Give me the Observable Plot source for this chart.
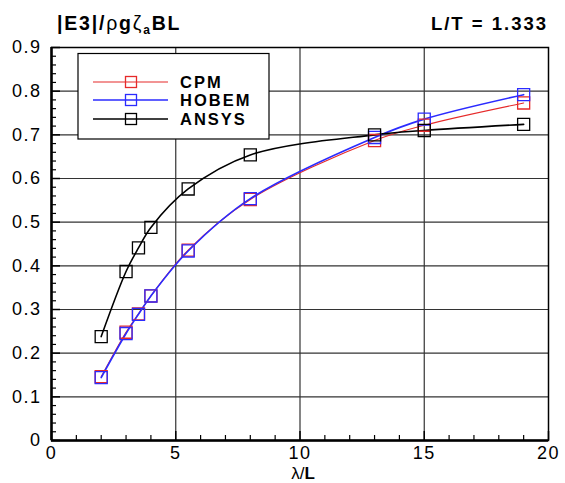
<!DOCTYPE html>
<html><head><meta charset="utf-8">
<script src="https://cdn.jsdelivr.net/npm/d3@7"></script>
<script src="https://cdn.jsdelivr.net/npm/@observablehq/plot@0.6"></script>
<style>
body{margin:0;background:#fff;}
#wrap{position:relative;width:565px;height:483px;font-family:"Liberation Sans",Arial,sans-serif;}
#wrap svg{display:block;}
#over{position:absolute;left:0;top:0;pointer-events:none;}
</style></head><body><div id="wrap"></div>
<script>
const xValues = [2, 3, 3.5, 4, 5.5, 8, 13, 15, 19];
const cpm   = [0.146, 0.248, 0.290, 0.331, 0.436, 0.552, 0.687, 0.722, 0.773];
const hobem = [0.144, 0.245, 0.289, 0.331, 0.434, 0.554, 0.694, 0.736, 0.792];
const ansys = [0.238, 0.387, 0.441, 0.488, 0.576, 0.654, 0.700, 0.710, 0.724];
const seriesNames = ["CPM", "HOBEM", "ANSYS"];
const seriesColors = ["#e62a2a", "#2b2bff", "#000000"];
const xTicks = [0, 5, 10, 15, 20];
const xTickLabels = ["0", "5", "10", "15", "20"];
const xMinorTicks = [1,2,3,4,6,7,8,9,11,12,13,14,16,17,18,19];
const yTicks = [0, 0.1, 0.2, 0.3, 0.4, 0.5, 0.6, 0.7, 0.8, 0.9];
const yTickLabels = ["0", "0.1", "0.2", "0.3", "0.4", "0.5", "0.6", "0.7", "0.8", "0.9"];
const yMinorTicks = [0.02,0.04,0.06,0.08,0.12,0.14,0.16,0.18,0.22,0.24,0.26,0.28,0.32,0.34,0.36,0.38,
  0.42,0.44,0.46,0.48,0.52,0.54,0.56,0.58,0.62,0.64,0.66,0.68,0.72,0.74,0.76,0.78,0.82,0.84,0.86,0.88];
const xGrid = [5, 10, 15];
const yGrid = [0.1, 0.2, 0.3, 0.4, 0.5, 0.6, 0.7, 0.8];
const ratioText = "L/T = 1.333";

const seriesValues = [cpm, hobem, ansys];
const rows = seriesNames.flatMap((s, k) => xValues.map((x, i) => ({series: s, x, y: seriesValues[k][i]})));

const W = 565, H = 483;
const chart = Plot.plot({
  width: W, height: H,
  marginLeft: 51, marginRight: 17, marginTop: 47, marginBottom: 43,
  style: {fontFamily: "Liberation Sans, Arial, sans-serif", fontSize: "18px", background: "#fff", overflow: "visible"},
  x: {domain: [0, 20]},
  y: {domain: [0, 0.9]},
  color: {domain: seriesNames, range: seriesColors},
  marks: [
    Plot.gridX(xGrid, {stroke: "#333", strokeOpacity: 1, strokeWidth: 1.2}),
    Plot.gridY(yGrid, {stroke: "#333", strokeOpacity: 1, strokeWidth: 1.2}),
    Plot.frame({stroke: "#000", strokeWidth: 1.5}),
    Plot.ruleX([0], {stroke: "#000", strokeWidth: 2.5}),
    Plot.ruleY([0], {stroke: "#000", strokeWidth: 2.5}),
    Plot.axisY({ticks: yTicks, tickSize: -9, tickFormat: () => "", label: null, strokeWidth: 1.5}),
    Plot.axisY({ticks: yMinorTicks, tickSize: -5, tickFormat: () => "", label: null, strokeWidth: 1.2}),
    Plot.axisX({ticks: xTicks, tickSize: -9, tickFormat: () => "", label: null, strokeWidth: 1.5}),
    Plot.axisX({ticks: xMinorTicks, tickSize: -5, tickFormat: () => "", label: null, strokeWidth: 1.2}),
    Plot.axisY({ticks: yTicks, tickSize: 0, tickPadding: 10, tickFormat: (d) => yTickLabels[yTicks.indexOf(d)], label: null, fill: "#000", fontSize: 18}),
    Plot.axisX({ticks: xTicks, tickSize: 0, tickPadding: 6, tickFormat: (d) => xTickLabels[xTicks.indexOf(d)], label: null, fill: "#000", fontSize: 18}),
    Plot.line(rows, {x: "x", y: "y", z: "series", stroke: "series", curve: "catmull-rom",
      strokeWidth: d => d.series === "CPM" ? 1.1 : 1.6}),
    Plot.dot(rows, {x: "x", y: "y", stroke: "series", symbol: "square", r: 6.8, fill: "none", strokeWidth: 1.3})
  ]
});
chart.style.letterSpacing = "1.5px";
document.getElementById("wrap").appendChild(chart);

// overlay texts and legend
const svg = d3.select("#wrap").append("svg").attr("id", "over").attr("width", W).attr("height", H)
  .style("font-family", "Liberation Sans, Arial, sans-serif");
const t = svg.append("text").attr("x", 57).attr("y", 30).attr("font-size", 19.5).attr("font-weight", "bold").attr("letter-spacing", "1.8px");
t.append("tspan").text("|E3|/");
t.append("tspan").attr("font-weight", "normal").text("ρ");
t.append("tspan").text("g");
t.append("tspan").attr("font-weight", "normal").text("ζ");
t.append("tspan").attr("font-size", 12).attr("dy", 4).text("a");
t.append("tspan").attr("dy", -4).text("BL");
svg.append("text").attr("x", 548).attr("y", 30).attr("text-anchor", "end").attr("font-size", 18.5)
  .attr("font-weight", "bold").attr("letter-spacing", "2px").text(ratioText);
const xl = svg.append("text").attr("x", 303).attr("y", 479).attr("text-anchor", "middle").attr("font-size", 17);
xl.append("tspan").text("λ/");
xl.append("tspan").attr("font-weight", "bold").text("L");

const lg = svg.append("g");
lg.append("rect").attr("x", 78).attr("y", 53.5).attr("width", 191).attr("height", 85.5)
  .attr("fill", "#fff").attr("stroke", "#000").attr("stroke-width", 1.2);
const rowsY = [82, 100, 119];
seriesNames.forEach((s, i) => {
  const y = rowsY[i];
  lg.append("line").attr("x1", 93).attr("x2", 168).attr("y1", y).attr("y2", y)
    .attr("stroke", seriesColors[i]).attr("stroke-width", i === 0 ? 1.1 : 1.6);
  lg.append("rect").attr("x", 125.5).attr("y", y - 5.5).attr("width", 11).attr("height", 11)
    .attr("fill", "none").attr("stroke", seriesColors[i]).attr("stroke-width", 1.3);
  lg.append("text").attr("x", 180).attr("y", y + 6).attr("font-size", 16.5).attr("font-weight", "bold")
    .attr("letter-spacing", "2px").text(s);
});
</script></body></html>
